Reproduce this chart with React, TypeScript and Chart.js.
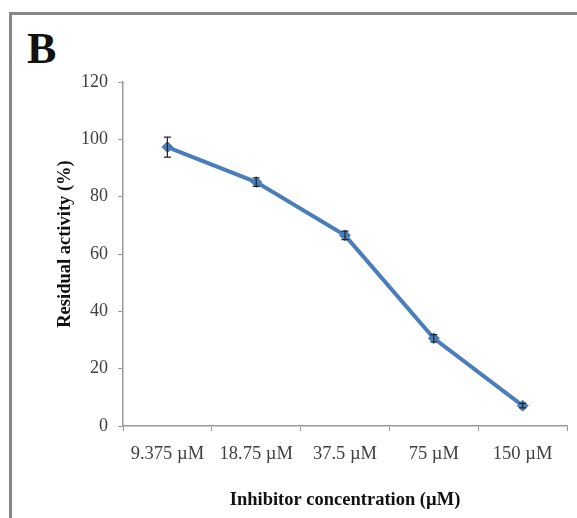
import React, { useEffect, useRef } from "react";
import { Chart, registerables } from "chart.js";

Chart.register(...registerables);

const categories = ["9.375 µM", "18.75 µM", "37.5 µM", "75 µM", "150 µM"];
const residualActivity = [97.3, 85.1, 66.5, 30.6, 7.1];
const errorValues = [3.5, 1.5, 1.5, 1.3, 0.8];
const yTicks = [0, 20, 40, 60, 80, 100, 120];
const yTitle = "Residual activity (%)";
const xTitle = "Inhibitor concentration (µM)";

const FONT = "'Liberation Serif', 'Times New Roman', serif";

const errorBarPlugin = {
  id: "errorBars",
  afterDatasetsDraw(chart: any) {
    const { ctx } = chart;
    const meta = chart.getDatasetMeta(0);
    const yScale = chart.scales.y;
    ctx.save();
    ctx.strokeStyle = "#222";
    ctx.lineWidth = 1.2;
    meta.data.forEach((pt: any, i: number) => {
      const v = residualActivity[i];
      const e = errorValues[i];
      const yTop = yScale.getPixelForValue(v + e);
      const yBot = yScale.getPixelForValue(v - e);
      const x = pt.x;
      ctx.beginPath();
      ctx.moveTo(x, yTop);
      ctx.lineTo(x, yBot);
      ctx.moveTo(x - 3.5, yTop);
      ctx.lineTo(x + 3.5, yTop);
      ctx.moveTo(x - 3.5, yBot);
      ctx.lineTo(x + 3.5, yBot);
      ctx.stroke();
    });
    ctx.restore();
  },
};

const yTitlePlugin = {
  id: "yTitleDraw",
  afterDraw(chart: any) {
    const { ctx, chartArea } = chart;
    ctx.save();
    ctx.translate(65, (chartArea.top + chartArea.bottom) / 2 - 10);
    ctx.rotate(-Math.PI / 2);
    ctx.font = `bold 18.5px ${FONT}`;
    ctx.fillStyle = "#111";
    ctx.textAlign = "center";
    ctx.textBaseline = "middle";
    ctx.fillText(yTitle, 0, 0);
    ctx.restore();
  },
};

export default function App() {
  const ref = useRef<HTMLCanvasElement>(null);

  useEffect(() => {
    if (!ref.current) return;
    const chart = new Chart(ref.current, {
      type: "line",
      data: {
        labels: categories,
        datasets: [
          {
            data: residualActivity,
            borderColor: "#4a7ebb",
            backgroundColor: "#4a7ebb",
            borderWidth: 4,
            pointStyle: "rectRot",
            pointRadius: 5.5,
            pointBorderWidth: 1,
            tension: 0,
          },
        ],
      },
      options: {
        animation: false,
        responsive: false,
        maintainAspectRatio: false,
        layout: { padding: { left: 52, top: 82, right: 10, bottom: 0 } },
        plugins: {
          legend: { display: false },
          tooltip: { enabled: false },
        },
        scales: {
          x: {
            type: "category",
            offset: true,
            grid: {
              offset: true,
              drawOnChartArea: false,
              drawTicks: true,
              tickLength: 5,
              color: "#999",
            },
            border: { display: true, color: "#999", width: 1.5 },
            ticks: {
              color: "#404040",
              padding: 12,
              maxRotation: 0,
              autoSkip: false,
              font: { family: FONT, size: 18.5 },
            },
            title: {
              display: true,
              text: xTitle,
              color: "#111",
              font: { family: FONT, size: 18.5, weight: "bold" },
              padding: { top: 0, bottom: 7 },
            },
            afterFit(scale: any) {
              scale.height = 92;
            },
          },
          y: {
            min: 0,
            max: 120,
            afterBuildTicks(scale: any) {
              scale.ticks = yTicks.map((v) => ({ value: v }));
            },
            grid: {
              drawOnChartArea: false,
              drawTicks: true,
              tickLength: 5,
              color: "#999",
            },
            border: { display: true, color: "#999", width: 1.5 },
            ticks: {
              color: "#404040",
              padding: 10,
              font: { family: FONT, size: 18 },
            },
            title: { display: false },
            afterFit(scale: any) {
              scale.width = 71;
            },
          },
        },
      },
      plugins: [errorBarPlugin, yTitlePlugin],
    });
    return () => chart.destroy();
  }, []);

  return (
    <div
      style={{
        position: "absolute",
        left: 0,
        top: 0,
        width: 577,
        height: 518,
        overflow: "hidden",
        background: "#fff",
      }}
    >
      <div
        style={{
          position: "absolute",
          left: 9,
          top: 12,
          width: 700,
          height: 700,
          borderTop: "3px solid #858585",
          borderLeft: "3px solid #858585",
        }}
      />
      <div
        style={{
          position: "absolute",
          left: 27,
          top: 24,
          fontFamily: FONT,
          fontWeight: "bold",
          fontSize: 44,
          lineHeight: "50px",
          color: "#111",
        }}
      >
        B
      </div>
      <canvas
        ref={ref}
        width={577}
        height={518}
        style={{ position: "absolute", left: 0, top: 0, width: 577, height: 518 }}
      />
    </div>
  );
}
